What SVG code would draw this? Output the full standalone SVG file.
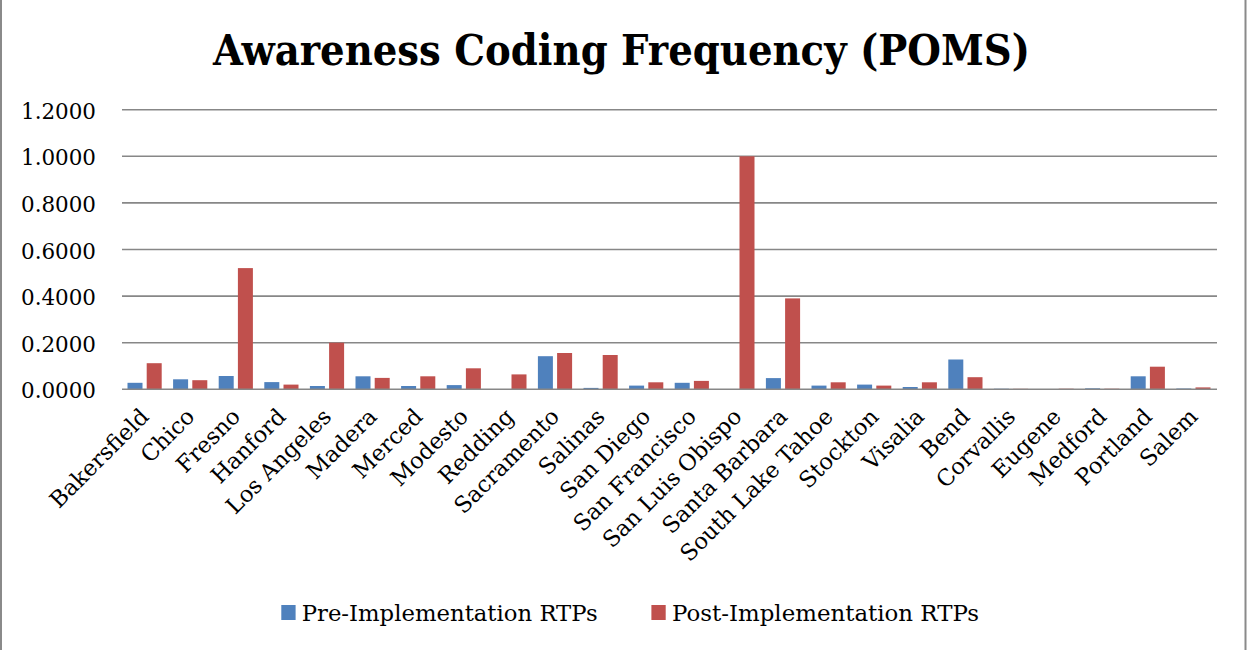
<svg xmlns="http://www.w3.org/2000/svg" width="1247" height="650" viewBox="0 0 1247 650">
  <style>
    text { font-family: "DejaVu Serif", "Liberation Serif", serif; fill: #000; }
    .title { font-size: 43.5px; font-weight: bold; }
    .ytick { font-size: 22px; text-anchor: end; }
    .cat { font-size: 22.5px; text-anchor: end; }
    .leg { font-size: 23px; }
    .grid { stroke: #878787; stroke-width: 1.6; }
    .pre { fill: #4F81BD; }
    .post { fill: #C0504D; }
  </style>
  <rect x="0" y="0" width="1247" height="650" fill="#ffffff"/>
  <!-- chart frame -->
  <line x1="1" y1="0" x2="1" y2="650" stroke="#8a8a8a" stroke-width="2"/>
  <line x1="1245.5" y1="0" x2="1245.5" y2="650" stroke="#8a8a8a" stroke-width="2"/>

  <text id="title" class="title" x="213" y="65" textLength="817" lengthAdjust="spacingAndGlyphs">Awareness Coding Frequency (POMS)</text>

  <!-- value axis gridlines and labels -->
  <g id="gridlines">
    <line class="grid" x1="122" y1="109.7" x2="1217" y2="109.7"/>
    <line class="grid" x1="122" y1="156.3" x2="1217" y2="156.3"/>
    <line class="grid" x1="122" y1="202.9" x2="1217" y2="202.9"/>
    <line class="grid" x1="122" y1="249.5" x2="1217" y2="249.5"/>
    <line class="grid" x1="122" y1="296.1" x2="1217" y2="296.1"/>
    <line class="grid" x1="122" y1="342.7" x2="1217" y2="342.7"/>
  </g>
  <g id="y-axis-labels">
    <text class="ytick" x="96" y="118.7" textLength="75" lengthAdjust="spacingAndGlyphs">1.2000</text>
    <text class="ytick" x="96" y="165.3" textLength="75" lengthAdjust="spacingAndGlyphs">1.0000</text>
    <text class="ytick" x="96" y="211.9" textLength="75" lengthAdjust="spacingAndGlyphs">0.8000</text>
    <text class="ytick" x="96" y="258.5" textLength="75" lengthAdjust="spacingAndGlyphs">0.6000</text>
    <text class="ytick" x="96" y="305.1" textLength="75" lengthAdjust="spacingAndGlyphs">0.4000</text>
    <text class="ytick" x="96" y="351.7" textLength="75" lengthAdjust="spacingAndGlyphs">0.2000</text>
    <text class="ytick" x="96" y="398.3" textLength="75" lengthAdjust="spacingAndGlyphs">0.0000</text>
  </g>

  <!-- bars: drawn upward from the zero line -->
  <g id="series-pre" transform="translate(0,389.3) scale(1,-1)">
    <rect class="pre" x="127.5" y="0" width="15" height="6.5"/>
    <rect class="pre" x="173.1" y="0" width="15" height="10.0"/>
    <rect class="pre" x="218.7" y="0" width="15" height="13.3"/>
    <rect class="pre" x="264.3" y="0" width="15" height="7.2"/>
    <rect class="pre" x="309.9" y="0" width="15" height="3.3"/>
    <rect class="pre" x="355.5" y="0" width="15" height="13.0"/>
    <rect class="pre" x="401.1" y="0" width="15" height="3.3"/>
    <rect class="pre" x="446.7" y="0" width="15" height="4.2"/>
    <rect class="pre" x="537.9" y="0" width="15" height="33.1"/>
    <rect class="pre" x="583.5" y="0" width="15" height="1.4"/>
    <rect class="pre" x="629.1" y="0" width="15" height="3.7"/>
    <rect class="pre" x="674.7" y="0" width="15" height="6.5"/>
    <rect class="pre" x="765.9" y="0" width="15" height="11.2"/>
    <rect class="pre" x="811.5" y="0" width="15" height="3.7"/>
    <rect class="pre" x="857.1" y="0" width="15" height="4.7"/>
    <rect class="pre" x="902.7" y="0" width="15" height="2.3"/>
    <rect class="pre" x="948.3" y="0" width="15" height="29.8"/>
    <rect class="pre" x="993.9" y="0" width="15" height="0.6"/>
    <rect class="pre" x="1085.1" y="0" width="15" height="1.0"/>
    <rect class="pre" x="1130.7" y="0" width="15" height="13.0"/>
    <rect class="pre" x="1176.3" y="0" width="15" height="0.8"/>
  </g>
  <g id="series-post" transform="translate(0,389.3) scale(1,-1)">
    <rect class="post" x="146.7" y="0" width="15" height="26.1"/>
    <rect class="post" x="192.3" y="0" width="15" height="9.1"/>
    <rect class="post" x="237.9" y="0" width="15" height="121.2"/>
    <rect class="post" x="283.5" y="0" width="15" height="4.7"/>
    <rect class="post" x="329.1" y="0" width="15" height="46.6"/>
    <rect class="post" x="374.7" y="0" width="15" height="11.4"/>
    <rect class="post" x="420.3" y="0" width="15" height="13.0"/>
    <rect class="post" x="465.9" y="0" width="15" height="21.0"/>
    <rect class="post" x="511.5" y="0" width="15" height="14.9"/>
    <rect class="post" x="557.1" y="0" width="15" height="36.3"/>
    <rect class="post" x="602.7" y="0" width="15" height="34.3"/>
    <rect class="post" x="648.3" y="0" width="15" height="7.0"/>
    <rect class="post" x="693.9" y="0" width="15" height="8.4"/>
    <rect class="post" x="739.5" y="0" width="15" height="233.0"/>
    <rect class="post" x="785.1" y="0" width="15" height="90.9"/>
    <rect class="post" x="830.7" y="0" width="15" height="7.0"/>
    <rect class="post" x="876.3" y="0" width="15" height="3.7"/>
    <rect class="post" x="921.9" y="0" width="15" height="7.0"/>
    <rect class="post" x="967.5" y="0" width="15" height="12.1"/>
    <rect class="post" x="1013.1" y="0" width="15" height="0.5"/>
    <rect class="post" x="1058.7" y="0" width="15" height="0.6"/>
    <rect class="post" x="1104.3" y="0" width="15" height="0.6"/>
    <rect class="post" x="1149.9" y="0" width="15" height="22.6"/>
    <rect class="post" x="1195.5" y="0" width="15" height="1.9"/>
  </g>

  <!-- category axis line -->
  <line id="x-axis" class="grid" x1="122" y1="389.3" x2="1217" y2="389.3"/>

  <!-- category labels, rotated 45 degrees -->
  <g id="x-axis-labels">
    <text class="cat" transform="translate(150.3,418) rotate(-45)">Bakersfield</text>
    <text class="cat" transform="translate(195.9,418) rotate(-45)">Chico</text>
    <text class="cat" transform="translate(241.5,418) rotate(-45)">Fresno</text>
    <text class="cat" transform="translate(287.1,418) rotate(-45)">Hanford</text>
    <text class="cat" transform="translate(332.7,418) rotate(-45)">Los Angeles</text>
    <text class="cat" transform="translate(378.3,418) rotate(-45)">Madera</text>
    <text class="cat" transform="translate(423.9,418) rotate(-45)">Merced</text>
    <text class="cat" transform="translate(469.5,418) rotate(-45)">Modesto</text>
    <text class="cat" transform="translate(515.1,418) rotate(-45)">Redding</text>
    <text class="cat" transform="translate(560.7,418) rotate(-45)">Sacramento</text>
    <text class="cat" transform="translate(606.3,418) rotate(-45)">Salinas</text>
    <text class="cat" transform="translate(651.9,418) rotate(-45)">San Diego</text>
    <text class="cat" transform="translate(697.5,418) rotate(-45)">San Francisco</text>
    <text class="cat" transform="translate(743.1,418) rotate(-45)">San Luis Obispo</text>
    <text class="cat" transform="translate(788.7,418) rotate(-45)">Santa Barbara</text>
    <text class="cat" transform="translate(834.3,418) rotate(-45)">South Lake Tahoe</text>
    <text class="cat" transform="translate(879.9,418) rotate(-45)">Stockton</text>
    <text class="cat" transform="translate(925.5,418) rotate(-45)">Visalia</text>
    <text class="cat" transform="translate(971.1,418) rotate(-45)">Bend</text>
    <text class="cat" transform="translate(1016.7,418) rotate(-45)">Corvallis</text>
    <text class="cat" transform="translate(1062.3,418) rotate(-45)">Eugene</text>
    <text class="cat" transform="translate(1107.9,418) rotate(-45)">Medford</text>
    <text class="cat" transform="translate(1153.5,418) rotate(-45)">Portland</text>
    <text class="cat" transform="translate(1199.1,418) rotate(-45)">Salem</text>
  </g>

  <!-- legend -->
  <g id="legend">
    <rect class="pre" x="281.3" y="605" width="14.3" height="15"/>
    <text class="leg" x="301.7" y="620.7" textLength="296" lengthAdjust="spacingAndGlyphs">Pre-Implementation RTPs</text>
    <rect class="post" x="651.4" y="605" width="14.3" height="15"/>
    <text class="leg" x="672" y="620.7" textLength="307" lengthAdjust="spacingAndGlyphs">Post-Implementation RTPs</text>
  </g>
</svg>
